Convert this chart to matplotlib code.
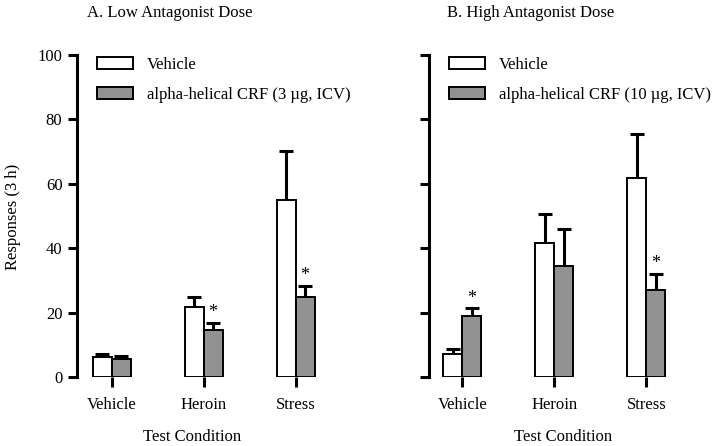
import numpy as np
import matplotlib
matplotlib.use("Agg")
import matplotlib.pyplot as plt

plt.rcParams['font.family'] = ['Liberation Serif', 'DejaVu Serif']
plt.rcParams['font.size'] = 12

conditions = ["Vehicle", "Heroin", "Stress"]

# panel A: low antagonist dose (3 ug)
low_vehicle = [6.2, 21.8, 55.1]
low_vehicle_err = [0.9, 3.0, 15.0]
low_crf = [5.6, 14.7, 24.8]
low_crf_err = [1.0, 2.2, 3.6]
low_sig = [False, True, True]

# panel B: high antagonist dose (10 ug)
high_vehicle = [7.2, 41.5, 61.7]
high_vehicle_err = [1.5, 9.2, 13.8]
high_crf = [18.8, 34.5, 27.0]
high_crf_err = [2.6, 11.4, 5.1]
high_sig = [True, False, True]

titles = ["A. Low Antagonist Dose", "B. High Antagonist Dose"]
crf_labels = ["alpha-helical CRF (3 \u00b5g, ICV)", "alpha-helical CRF (10 \u00b5g, ICV)"]

GRAY = "#929292"
W = 0.205


def draw_panel(ax, veh, veh_err, crf, crf_err, sig, crf_label, show_labels):
    x = np.arange(len(conditions))
    b1 = ax.bar(x - W / 2, veh, W, color="white", edgecolor="black", linewidth=1.4,
                label="Vehicle", zorder=2)
    b2 = ax.bar(x + W / 2, crf, W, color=GRAY, edgecolor="black", linewidth=1.4,
                label=crf_label, zorder=2)
    for xs, vals, errs in [(x - W / 2, veh, veh_err), (x + W / 2, crf, crf_err)]:
        _, caps, _ = ax.errorbar(xs, vals, yerr=[np.zeros(len(errs)), errs], fmt="none",
                                 ecolor="black", elinewidth=2.2, capsize=5, capthick=2.2,
                                 zorder=3)
        caps[0].set_visible(False)
    for i, s in enumerate(sig):
        if s:
            ax.text(x[i] + W / 2, crf[i] + crf_err[i] + 3.0, "*", ha="center",
                    va="center", fontsize=13)

    ax.set_ylim(0, 100)
    ax.set_yticks([0, 20, 40, 60, 80, 100])
    ax.set_xticks(x)
    ax.set_xticklabels(conditions)
    for sp in ["top", "right", "bottom"]:
        ax.spines[sp].set_visible(False)
    ax.spines["left"].set_linewidth(2.2)
    ax.tick_params(axis="y", direction="out", length=6.5, width=2.2, labelsize=12,
                   labelleft=show_labels, pad=4)
    ax.tick_params(axis="x", direction="out", length=7.2, width=2.2, labelsize=12, pad=7)
    ax.set_xlabel("Test Condition", fontsize=12)
    ax.legend(handles=[b1, b2], loc="upper left", bbox_to_anchor=(0.075, 0.995),
              frameon=False, fontsize=12, handlelength=2.15, handleheight=0.75,
              handletextpad=0.85, labelspacing=0.85, borderaxespad=0, borderpad=0)


fig = plt.figure(figsize=(7.2, 4.46), dpi=100)
ax1 = fig.add_axes([77 / 720, 69 / 446, 263 / 720, 322 / 446])
ax2 = fig.add_axes([429.3 / 720, 69 / 446, 263 / 720, 322 / 446])
ax1.set_xlim(-0.377, -0.377 + 263 / 92)
ax2.set_xlim(-0.359, -0.359 + 263 / 92)

draw_panel(ax1, low_vehicle, low_vehicle_err, low_crf, low_crf_err, low_sig, crf_labels[0], True)
draw_panel(ax2, high_vehicle, high_vehicle_err, high_crf, high_crf_err, high_sig, crf_labels[1], False)

ax1.xaxis.set_label_coords((191.7 - 77) / 263, -0.16)
ax2.xaxis.set_label_coords((563 - 429.3) / 263, -0.16)

fig.text(87 / 720, 1 - 13 / 446, titles[0], ha="left", va="center", fontsize=12)
fig.text(446.7 / 720, 1 - 13 / 446, titles[1], ha="left", va="center", fontsize=12)
fig.text(13 / 720, 1 - 217 / 446, "Responses (3 h)", rotation=90, ha="center",
         va="center", fontsize=12)

fig.savefig("out.png", dpi=100)
